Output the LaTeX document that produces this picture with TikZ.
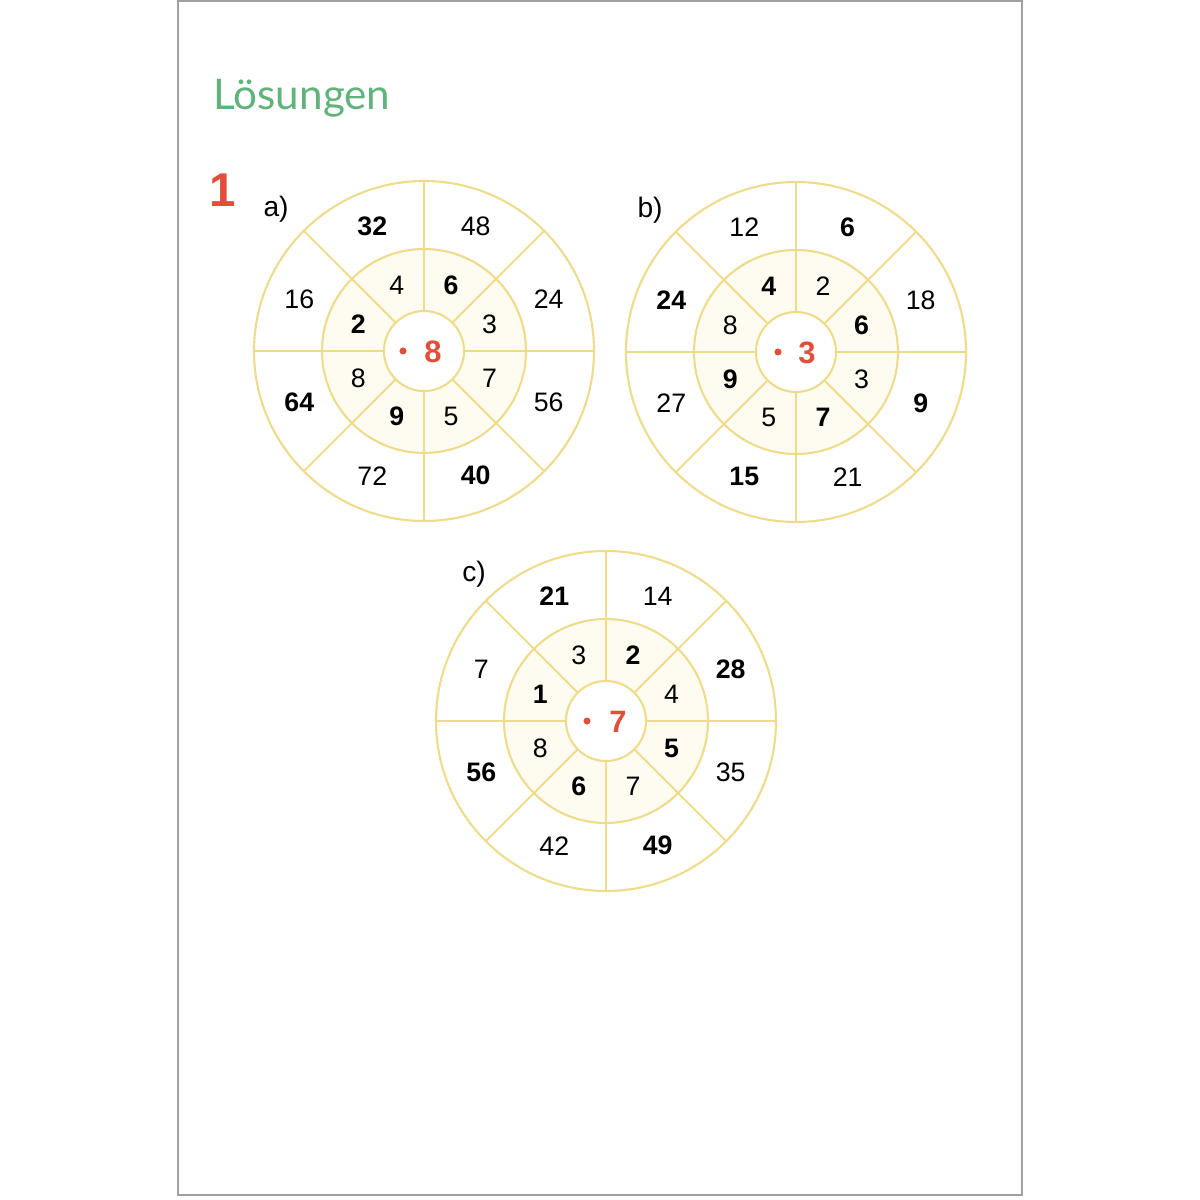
\documentclass[tikz,border=0pt]{standalone}
\usepackage{fontspec}
\setmainfont{Liberation Sans}
\newfontfamily\headfont{Lato}
\usetikzlibrary{backgrounds}

\definecolor{ringline}{RGB}{238,220,140}
\definecolor{ringfill}{RGB}{254,252,240}
\definecolor{mulred}{RGB}{226,78,56}
\definecolor{headgreen}{RGB}{98,178,124}
\definecolor{pagegray}{RGB}{160,160,160}

\tikzset{
  ring/.style={draw=ringline, line width=0.6pt},
  num/.style={font=\fontsize{7.6}{9}\selectfont, inner sep=0pt},
  factor/.style={text=mulred, font=\fontsize{8.8}{10}\selectfont\bfseries, inner sep=0pt},
  dotnode/.style={circle, fill=mulred, inner sep=0pt, minimum size=2pt},
  partlabel/.style={font=\fontsize{8}{10}\selectfont, inner sep=0pt},
}

\begin{document}
\begin{tikzpicture}
  \useasboundingbox (0,0) rectangle (12,12);
  \draw[pagegray, line width=0.5pt] (1.78,0.05) rectangle (10.22,11.99);

  \node[text=headgreen, font=\headfont\fontsize{12}{14}\selectfont] (title) at (3.02,11.02) {Lösungen};
  \node[text=mulred, font=\fontsize{13.5}{16}\selectfont\bfseries] (task) at (2.23,10.10) {1};

  % a)
  \begin{scope}[shift={(4.24,8.49)}]
    \fill[ringfill] (0,0) circle (1.02);
    \fill[white] (0,0) circle (0.40);
    \draw[ring] (0,0) circle (1.70);
    \draw[ring] (0,0) circle (1.02);
    \draw[ring] (0,0) circle (0.40);
    \foreach \a in {0,45,...,315}
      \draw[ring] (\a:0.40) -- (\a:1.70);
    \node[partlabel] (a-label) at (-1.48,1.42) {a)};
    \node[dotnode] (a-dot) at (-0.21,0) {};
    \node[factor] (a-factor) at (0.09,-0.01) {8};
    \foreach \ang/\val [count=\i] in {112.5/4, 67.5/\textbf{6}, 22.5/3, -22.5/7,
        -67.5/5, -112.5/\textbf{9}, -157.5/8, 157.5/\textbf{2}}
      \node[num] (a-in\i) at (\ang:0.71) {\val};
    \foreach \ang/\val [count=\i] in {112.5/\textbf{32}, 67.5/48, 22.5/24, -22.5/56,
        -67.5/\textbf{40}, -112.5/72, -157.5/\textbf{64}, 157.5/16}
      \node[num] (a-out\i) at (\ang:1.35) {\val};
  \end{scope}

  % b)
  \begin{scope}[shift={(7.96,8.48)}]
    \fill[ringfill] (0,0) circle (1.02);
    \fill[white] (0,0) circle (0.40);
    \draw[ring] (0,0) circle (1.70);
    \draw[ring] (0,0) circle (1.02);
    \draw[ring] (0,0) circle (0.40);
    \foreach \a in {0,45,...,315}
      \draw[ring] (\a:0.40) -- (\a:1.70);
    \node[partlabel] (b-label) at (-1.46,1.42) {b)};
    \node[dotnode] (b-dot) at (-0.18,0) {};
    \node[factor] (b-factor) at (0.11,-0.01) {3};
    \foreach \ang/\val [count=\i] in {112.5/\textbf{4}, 67.5/2, 22.5/\textbf{6}, -22.5/3,
        -67.5/\textbf{7}, -112.5/5, -157.5/\textbf{9}, 157.5/8}
      \node[num] (b-in\i) at (\ang:0.71) {\val};
    \foreach \ang/\val [count=\i] in {112.5/12, 67.5/\textbf{6}, 22.5/18, -22.5/\textbf{9},
        -67.5/21, -112.5/\textbf{15}, -157.5/27, 157.5/\textbf{24}}
      \node[num] (b-out\i) at (\ang:1.35) {\val};
  \end{scope}

  % c)
  \begin{scope}[shift={(6.06,4.79)}]
    \fill[ringfill] (0,0) circle (1.02);
    \fill[white] (0,0) circle (0.40);
    \draw[ring] (0,0) circle (1.70);
    \draw[ring] (0,0) circle (1.02);
    \draw[ring] (0,0) circle (0.40);
    \foreach \a in {0,45,...,315}
      \draw[ring] (\a:0.40) -- (\a:1.70);
    \node[partlabel] (c-label) at (-1.32,1.47) {c)};
    \node[dotnode] (c-dot) at (-0.19,0) {};
    \node[factor] (c-factor) at (0.12,-0.01) {7};
    \foreach \ang/\val [count=\i] in {112.5/3, 67.5/\textbf{2}, 22.5/4, -22.5/\textbf{5},
        -67.5/7, -112.5/\textbf{6}, -157.5/8, 157.5/\textbf{1}}
      \node[num] (c-in\i) at (\ang:0.71) {\val};
    \foreach \ang/\val [count=\i] in {112.5/\textbf{21}, 67.5/14, 22.5/\textbf{28}, -22.5/35,
        -67.5/\textbf{49}, -112.5/42, -157.5/\textbf{56}, 157.5/7}
      \node[num] (c-out\i) at (\ang:1.35) {\val};
  \end{scope}
\end{tikzpicture}
\end{document}
